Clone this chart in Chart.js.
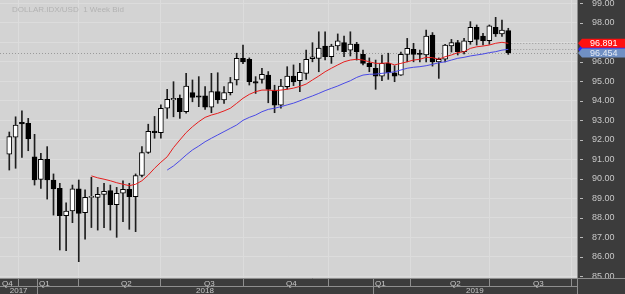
<!DOCTYPE html>
<html><head><meta charset="utf-8">
<script src="https://cdn.jsdelivr.net/npm/chart.js@4.4.1/dist/chart.umd.min.js"></script>
<style>html,body{margin:0;padding:0;background:#3c3c3c;}canvas{display:block;}</style>
</head><body>
<canvas id="c" width="625" height="294"></canvas>
<script>
const opens = [91.26,92.13,92.90,92.85,91.13,89.97,91.00,89.94,89.51,88.11,
  88.35,89.48,88.26,89.05,89.05,89.20,89.39,88.67,89.26,89.46,
  89.08,90.17,91.35,92.45,92.36,93.62,94.05,94.13,93.44,94.42,
  94.25,94.25,93.67,94.47,94.04,94.42,95.07,96.18,96.13,94.98,
  95.10,95.32,94.55,93.78,94.72,95.27,95.03,95.41,96.16,96.18,
  96.81,96.26,96.81,96.98,96.60,96.91,96.38,95.92,95.67,95.27,
  95.92,95.44,95.32,96.38,96.64,96.40,96.35,97.37,96.00,96.13,
  96.81,96.98,96.52,97.03,97.77,97.32,97.08,97.77,97.43,97.60];
const highs = [92.40,93.18,93.49,93.10,92.28,91.31,91.65,90.25,89.77,88.77,
  89.68,89.94,89.43,90.08,89.56,89.77,89.68,89.56,89.89,89.77,
  90.25,91.65,92.80,93.20,93.79,94.59,94.98,94.30,95.41,95.07,
  95.24,94.73,95.41,95.44,94.73,95.20,96.44,96.86,96.20,95.24,
  95.67,95.50,94.80,95.10,95.75,95.84,95.92,96.60,96.98,97.54,
  97.54,96.90,97.43,97.32,97.54,97.00,96.60,96.20,96.09,96.35,
  96.44,95.80,96.50,97.20,96.95,96.60,97.63,97.50,96.20,96.90,
  97.15,97.10,97.20,98.06,97.89,97.46,97.89,98.28,98.14,97.72];
const lows = [90.45,90.54,91.10,91.44,89.68,89.51,88.96,88.14,86.35,86.31,
  87.75,85.75,86.90,87.50,87.37,87.50,87.37,87.00,87.80,87.41,
  87.29,90.10,91.30,92.08,92.08,93.10,93.18,93.10,93.36,93.95,
  93.70,93.56,93.39,93.87,93.87,94.30,94.81,95.90,94.81,94.38,
  94.90,93.90,93.39,93.62,94.60,94.78,94.47,95.10,96.00,95.49,
  96.10,95.92,96.60,96.26,96.30,96.09,95.84,95.49,94.59,95.03,
  95.10,94.98,95.30,96.00,96.00,96.00,96.00,95.78,95.15,96.00,
  96.50,96.35,96.40,96.90,96.86,96.86,96.90,97.30,97.30,96.38];
const closes = [92.16,92.76,92.82,92.04,89.94,91.00,89.94,89.48,88.11,88.35,
  89.48,88.23,89.05,89.10,89.20,89.36,88.67,89.26,89.46,89.08,
  90.17,91.35,92.44,92.36,93.62,94.08,94.13,93.44,94.76,94.18,
  94.19,93.67,94.47,94.04,94.42,94.94,96.18,96.00,94.98,94.91,
  95.36,94.59,93.78,94.76,95.27,94.97,95.46,96.13,96.26,96.71,
  96.26,96.81,97.08,96.52,96.91,96.52,95.92,95.75,95.27,95.92,
  95.44,95.27,96.38,96.69,96.38,96.38,97.32,96.00,96.13,96.86,
  96.98,96.52,97.08,97.77,97.15,97.08,97.84,97.43,97.63,96.454];
// red moving average, first value belongs to candle index 13
const redStart = 13;
const redMA = [90.15,90.05,89.98,89.90,89.80,89.72,89.65,89.72,89.90,90.19,
  90.54,90.85,91.13,91.60,91.99,92.37,92.67,92.93,93.15,93.27,
  93.36,93.48,93.62,93.87,94.13,94.33,94.47,94.55,94.55,94.52,
  94.55,94.59,94.65,94.74,94.86,95.07,95.27,95.49,95.67,95.84,
  96.00,96.09,96.13,96.09,96.00,95.92,95.92,95.95,95.84,95.92,
  96.00,96.09,96.13,96.23,96.21,96.13,96.26,96.35,96.47,96.52,
  96.69,96.77,96.81,96.86,96.95,97.00,96.95];
// blue moving average, first value belongs to candle index 25
const blueStart = 25;
const blueMA = [90.45,90.66,90.93,91.22,91.48,91.68,91.90,92.08,92.25,92.42,
  92.59,92.76,93.00,93.15,93.27,93.44,93.56,93.62,93.70,93.79,
  93.88,94.00,94.13,94.25,94.38,94.52,94.64,94.76,94.90,95.03,
  95.20,95.32,95.36,95.37,95.41,95.44,95.49,95.58,95.67,95.72,
  95.75,95.80,95.87,95.95,96.00,96.09,96.18,96.23,96.30,96.35,
  96.40,96.47,96.52,96.60,96.64];
const quarterTicks = [-1.6, 4.43, 17.42, 30.56, 43.54, 57.54, 69.51, 82.56];
const quarterLabels = ['Q4','Q1','Q2','Q3','Q4','Q1','Q2','Q3'];
const yearLabels = ['2017','2018','2019'];
const yearStartTicks = [-1.6, 4.43, 57.54];
const yTicks = [85,86,87,88,89,90,91,92,93,94,95,96,97,98,99];
const tagTexts = ['96.891','96.454'];
const titleText = 'DOLLAR.IDX/USD  1 Week Bid';

const bodyData = opens.map((o,i)=>({x:i, y:[o, closes[i]]}));
const wickData = lows.map((l,i)=>({x:i, y:[l, highs[i]]}));
const bodyColors = opens.map((o,i)=> closes[i] >= o ? '#ffffff' : '#000000');
const redData = redMA.map((v,i)=>({x:i+redStart, y:v}));
const blueData = blueMA.map((v,i)=>({x:i+blueStart, y:v}));

const FONT = 'Liberation Sans';
const decor = {
  id: 'decor',
  beforeDraw(chart) {
    const {ctx, chartArea: a, width, height} = chart;
    ctx.save();
    ctx.fillStyle = '#3c3c3c'; ctx.fillRect(0,0,width,height);
    ctx.fillStyle = '#d3d3d3'; ctx.fillRect(a.left, a.top, a.right-a.left, a.bottom-a.top);
    ctx.restore();
  },
  beforeDatasetsDraw(chart) {
    const {ctx, chartArea: a, scales: {x, y}} = chart;
    const last = closes.length - 1;
    const lx = x.getPixelForValue(last);
    ctx.save();
    ctx.strokeStyle = '#9a9a9a'; ctx.lineWidth = 1; ctx.setLineDash([1,2]);
    const cy = Math.round(y.getPixelForValue(closes[last])) + 0.5;
    ctx.beginPath(); ctx.moveTo(a.left, cy); ctx.lineTo(a.right, cy); ctx.stroke();
    [redMA[redMA.length-1], blueMA[blueMA.length-1]].forEach(v => {
      const py = Math.round(y.getPixelForValue(v)) + 0.5;
      ctx.beginPath(); ctx.moveTo(lx, py); ctx.lineTo(a.right, py); ctx.stroke();
    });
    ctx.restore();
  },
  afterDraw(chart) {
    const {ctx, chartArea: a, width, height, scales: {x, y}} = chart;
    ctx.save();
    ctx.strokeStyle = '#8e8e8e'; ctx.lineWidth = 1;
    ctx.beginPath();
    ctx.moveTo(a.right + 0.5, 0); ctx.lineTo(a.right + 0.5, height);
    ctx.moveTo(0, a.bottom + 0.5); ctx.lineTo(width, a.bottom + 0.5);
    ctx.moveTo(0, a.bottom + 8.5); ctx.lineTo(a.right, a.bottom + 8.5);
    yearStartTicks.forEach(t => {
      const px = Math.round(x.getPixelForValue(t)) + 0.5;
      if (px > a.left && px < a.right) { ctx.moveTo(px, a.bottom); ctx.lineTo(px, height); }
    });
    ctx.stroke();
    ctx.strokeStyle = '#b8b8b8';
    ctx.beginPath();
    yTicks.forEach(v => {
      const py = Math.round(y.getPixelForValue(v)) + 0.5;
      ctx.moveTo(a.right + 3, py); ctx.lineTo(a.right + 6, py);
    });
    ctx.stroke();
    ctx.fillStyle = '#c8c8c8';
    ctx.font = '8px "' + FONT + '"';
    ctx.textBaseline = 'top'; ctx.textAlign = 'left';
    quarterTicks.forEach((t,i) => {
      const px = Math.round(x.getPixelForValue(t));
      ctx.fillText(quarterLabels[i], Math.max(px, 0) + 2, a.bottom + 1.5);
    });
    ctx.textAlign = 'center';
    yearStartTicks.forEach((t,i) => {
      const x0 = Math.max(a.left, x.getPixelForValue(t));
      const x1 = i + 1 < yearStartTicks.length ? x.getPixelForValue(yearStartTicks[i+1]) : a.right;
      ctx.fillText(yearLabels[i], (x0 + x1) / 2, a.bottom + 9);
    });
    ctx.textAlign = 'left';
    ctx.fillStyle = '#b3b3b3';
    ctx.font = '8px "' + FONT + '"';
    ctx.fillText(titleText, 12, 6);
    const tag = (py, color, text, tc) => {
      const x0 = a.right, h = 9;
      ctx.fillStyle = color;
      ctx.beginPath();
      ctx.moveTo(x0 + 1, py); ctx.lineTo(x0 + 5, py - h/2); ctx.lineTo(width, py - h/2);
      ctx.lineTo(width, py + h/2); ctx.lineTo(x0 + 5, py + h/2); ctx.closePath(); ctx.fill();
      if (text) {
        ctx.fillStyle = tc; ctx.font = '9px "' + FONT + '"';
        ctx.textBaseline = 'middle'; ctx.textAlign = 'left';
        ctx.fillText(text, x0 + 13, py + 0.5);
      }
    };
    tag(y.getPixelForValue(blueMA[blueMA.length-1]), '#2424ff', '', '#fff');
    tag(y.getPixelForValue(redMA[redMA.length-1]), '#ff1010', tagTexts[0], '#ffffff');
    tag(y.getPixelForValue(closes[closes.length-1]), '#7090c4', tagTexts[1], '#e6ecf6');
    ctx.restore();
  }
};

new Chart(document.getElementById('c'), {
  type: 'bar',
  data: {
    datasets: [
      {type:'line', data: redData, borderColor:'#e61e1e', borderWidth:1, pointRadius:0, fill:false, tension:0, order:0},
      {type:'line', data: blueData, borderColor:'#4a4ae6', borderWidth:1, pointRadius:0, fill:false, tension:0, order:1},
      {type:'bar', data: bodyData, backgroundColor: bodyColors, borderColor:'#000000', borderWidth:1,
        borderSkipped:false, barThickness:5, grouped:false, minBarLength:1, order:2},
      {type:'bar', data: wickData, backgroundColor:'#1e1e1e', borderWidth:0, barThickness:1, grouped:false, order:3}
    ]
  },
  options: {
    responsive: false, animation: false, devicePixelRatio: 1,
    layout: {padding: 0},
    plugins: {legend:{display:false}, tooltip:{enabled:false}, title:{display:false}},
    scales: {
      x: {
        type: 'linear', min: -1.47, max: 89.88, offset: false,
        afterBuildTicks: s => { s.ticks = quarterTicks.map(v => ({value: v})); },
        ticks: {display: false},
        grid: {color: '#dcdcdc', tickColor: '#8e8e8e', tickLength: 8, drawTicks: true},
        border: {display: false},
        afterFit: s => { s.height = 16; s.paddingLeft = 0; s.paddingRight = 0; }
      },
      y: {
        position: 'right', min: 84.913, max: 99.17,
        afterBuildTicks: s => { s.ticks = yTicks.map(v => ({value: v})); },
        ticks: {color: '#c8c8c8', font: {family: FONT, size: 9}, padding: 15,
          callback: v => Number(v).toFixed(2)},
        grid: {color: '#dcdcdc', drawTicks: false},
        border: {display: false},
        afterFit: s => { s.width = 48; s.paddingTop = 0; s.paddingBottom = 0; }
      }
    }
  },
  plugins: [decor]
});
</script>
</body></html>
